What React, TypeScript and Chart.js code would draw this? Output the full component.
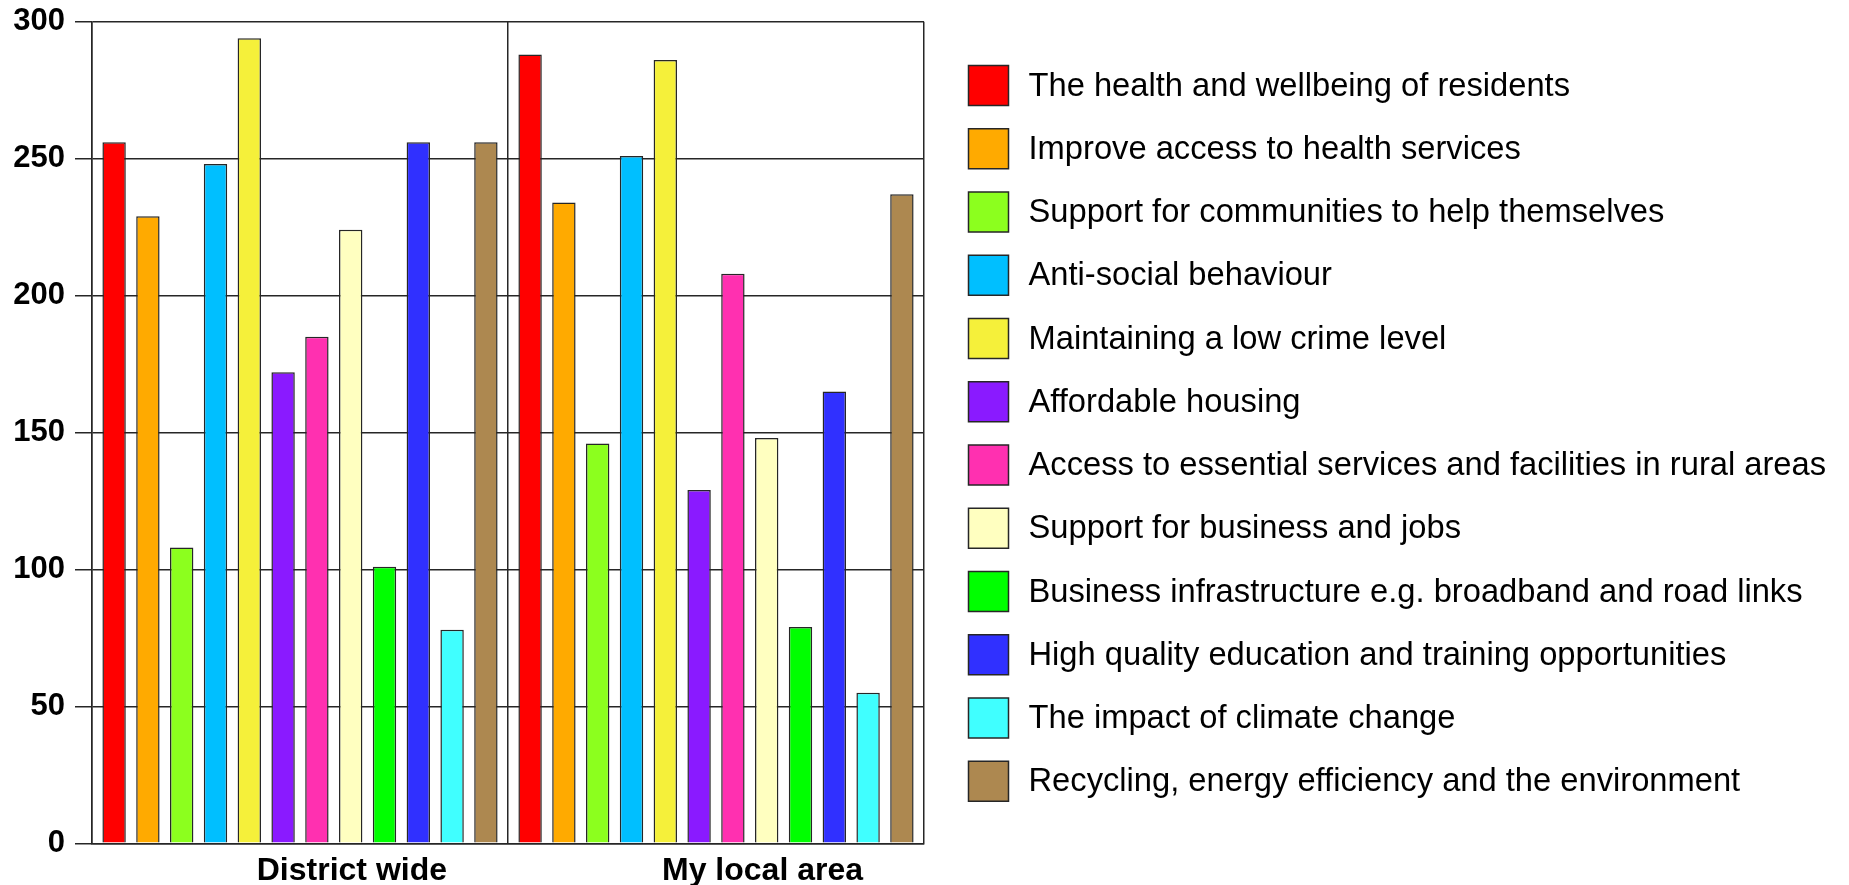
import React, { useEffect, useRef } from "react";
import { Chart, registerables } from "chart.js";

Chart.register(...registerables);

const categories = ["District wide", "My local area"];

const seriesLabels = [
  "The health and wellbeing of residents",
  "Improve access to health services",
  "Support for communities to help themselves",
  "Anti-social behaviour",
  "Maintaining a low crime level",
  "Affordable housing",
  "Access to essential services and facilities in rural areas",
  "Support for business and jobs",
  "Business infrastructure e.g. broadband and road links",
  "High quality education and training opportunities",
  "The impact of climate change",
  "Recycling, energy efficiency and the environment",
];

const districtWide = [256, 229, 108, 248, 294, 172, 185, 224, 101, 256, 78, 256];
const myLocalArea = [288, 234, 146, 251, 286, 129, 208, 148, 79, 165, 55, 237];

const seriesColors = [
  "#FF0000",
  "#FFAA00",
  "#8CFF1E",
  "#00BFFF",
  "#F5F03A",
  "#8A1AFF",
  "#FF30B0",
  "#FFFFC0",
  "#00FF00",
  "#3030FF",
  "#40FFFF",
  "#AD8850",
];

const yTicks = [0, 50, 100, 150, 200, 250, 300];

const FONT = '"Liberation Sans", Arial, Helvetica, sans-serif';
const LINE = "#262626";

const overlayPlugin = {
  id: "overlay",
  afterDraw(chart: any) {
    const { ctx, chartArea, scales } = chart;
    ctx.save();
    // category labels
    ctx.font = `bold 32px ${FONT}`;
    ctx.fillStyle = "#000";
    ctx.textAlign = "right";
    ctx.textBaseline = "alphabetic";
    categories.forEach((c, i) => {
      const x = scales.x.getPixelForValue(i) + 147;
      ctx.fillText(c, x, chartArea.bottom + 37);
    });
    // legend
    const bx = chartArea.right + 44.5;
    const by0 = chartArea.top + 43.8;
    const step = 63.25;
    const size = 40;
    ctx.font = `32.7px ${FONT}`;
    ctx.textAlign = "left";
    ctx.textBaseline = "middle";
    seriesLabels.forEach((label, i) => {
      const y = by0 + i * step;
      ctx.fillStyle = seriesColors[i];
      ctx.fillRect(bx, y, size, size);
      ctx.lineWidth = 1.5;
      ctx.strokeStyle = LINE;
      ctx.strokeRect(bx, y, size, size);
      ctx.fillStyle = "#000";
      ctx.fillText(label, bx + size + 20, y + size / 2 + 1);
    });
    ctx.restore();
  },
};

export default function App() {
  const canvasRef = useRef<HTMLCanvasElement | null>(null);

  useEffect(() => {
    document.body.style.margin = "0";
    document.body.style.overflow = "hidden";
    const canvas = canvasRef.current;
    if (!canvas) return;

    const datasets = seriesLabels.map((label, i) => ({
      label,
      data: [districtWide[i], myLocalArea[i]],
      backgroundColor: seriesColors[i],
      borderColor: LINE,
      borderWidth: 1.5,
      categoryPercentage: 0.975,
      barPercentage: 0.692,
    }));

    const chart = new Chart(canvas, {
      type: "bar",
      data: { labels: categories, datasets },
      options: {
        animation: false,
        responsive: true,
        maintainAspectRatio: false,
        layout: { padding: { left: 0, right: 925, top: 21.7, bottom: 0 } },
        plugins: {
          legend: { display: false },
          tooltip: { enabled: false },
        },
        scales: {
          x: {
            type: "category",
            ticks: { display: false },
            grid: {
              display: true,
              offset: true,
              color: LINE,
              lineWidth: 1.5,
              drawTicks: false,
            },
            border: { display: true, color: LINE, width: 1.5 },
            afterFit: (s: any) => {
              s.height = 41.7;
              s.paddingLeft = 0;
              s.paddingRight = 0;
            },
          },
          y: {
            min: 0,
            max: 300,
            afterBuildTicks: (s: any) => {
              s.ticks = yTicks.map((v) => ({ value: v }));
            },
            ticks: {
              color: "#000",
              padding: 10,
              font: { family: FONT, size: 31, weight: "bold" },
            },
            grid: {
              color: LINE,
              lineWidth: 1.5,
              drawTicks: true,
              tickLength: 17,
            },
            border: { display: true, color: LINE, width: 1.5 },
            afterFit: (s: any) => {
              s.width = 92;
              s.paddingTop = 0;
              s.paddingBottom = 0;
            },
          },
        },
      },
      plugins: [overlayPlugin],
    });

    return () => {
      chart.destroy();
    };
  }, []);

  return (
    <div style={{ position: "relative", width: "1849px", height: "885px" }}>
      <canvas ref={canvasRef} />
    </div>
  );
}
